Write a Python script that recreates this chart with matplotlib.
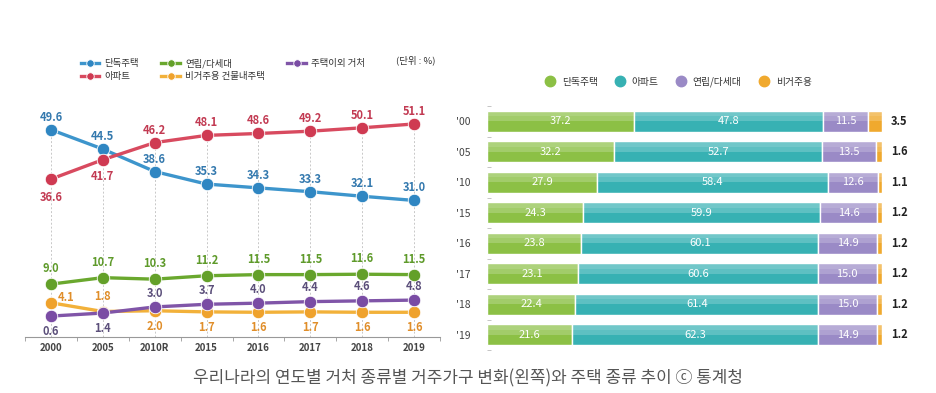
import matplotlib
matplotlib.use("Agg")
import matplotlib.pyplot as plt
import numpy as np
from matplotlib.lines import Line2D

plt.rcParams['font.family'] = ['Noto Sans CJK KR', 'DejaVu Sans']

# left chart data (%)
years = ['2000', '2005', '2010R', '2015', '2016', '2017', '2018', '2019']
detached = [49.6, 44.5, 38.6, 35.3, 34.3, 33.3, 32.1, 31.0]
apartment = [36.6, 41.7, 46.2, 48.1, 48.6, 49.2, 50.1, 51.1]
rowhouse = [9.0, 10.7, 10.3, 11.2, 11.5, 11.5, 11.6, 11.5]
non_housing = [0.6, 1.4, 3.0, 3.7, 4.0, 4.4, 4.6, 4.8]
non_res = [4.1, 1.8, 2.0, 1.7, 1.6, 1.7, 1.6, 1.6]

# right chart data (%)
yr_short = ["'00", "'05", "'10", "'15", "'16", "'17", "'18", "'19"]
house_det = [37.2, 32.2, 27.9, 24.3, 23.8, 23.1, 22.4, 21.6]
house_apt = [47.8, 52.7, 58.4, 59.9, 60.1, 60.6, 61.4, 62.3]
house_row = [11.5, 13.5, 12.6, 14.6, 14.9, 15.0, 15.0, 14.9]
house_nonres = [3.5, 1.6, 1.1, 1.2, 1.2, 1.2, 1.2, 1.2]

fig = plt.figure(figsize=(9.36, 3.93), dpi=100)

# ---------- left: line chart ----------
ax = fig.add_axes([25/936, 56/393, 415/936, 237/393])
x = np.arange(len(years))
ymin = -4.9
ax.set_xlim(-0.2, 7.45)
ax.set_ylim(ymin, 57.4)

tops = np.max([detached, apartment, rowhouse, non_housing, non_res], axis=0)
ax.vlines(x, ymin, tops, colors='#c8c8c8', linestyles=(0, (2, 2)), lw=0.7, zorder=0)

# (name, values, line color, marker color, text color, label offsets in points)
series = [
    ('단독주택', detached, '#3d95cc', '#2f86c2', '#3479ae', [9, 9, 9, 9, 9, 9, 9, 9]),
    ('아파트', apartment, '#d84a5f', '#cf3a52', '#c23a52', [-13, -12, 9, 9, 9, 9, 9, 9]),
    ('연립/다세대', rowhouse, '#6aa82e', '#63a029', '#5e9a2a', [11, 11, 11, 11, 11, 11, 11, 11]),
    ('비거주용 건물내주택', non_res, '#f2b13a', '#efa22c', '#e08e2a', [None, 11, -11, -11, -11, -11, -11, -11]),
    ('주택이외 거처', non_housing, '#8055a8', '#7a4ca4', '#5b4f7a', [-11, -11, 10, 10, 10, 10, 10, 10]),
]
handles = {}
for name, vals, lc, mc, tc, offs in series:
    h, = ax.plot(x, vals, color=lc, lw=2.4, marker='o', ms=9,
                 markerfacecolor=mc, markeredgecolor='white', markeredgewidth=0.6,
                 zorder=3, label=name)
    handles[name] = h
    for i, v in enumerate(vals):
        off = (11, 4) if offs[i] is None else (0, offs[i])
        ax.annotate(f'{v:.1f}', (x[i], v), textcoords='offset points', xytext=off,
                    ha='center', va='center', fontsize=8, fontweight='bold', color=tc)

for s in ['top', 'right', 'left']:
    ax.spines[s].set_visible(False)
ax.spines['bottom'].set_color('#999999')
ax.spines['bottom'].set_linewidth(0.8)
ax.set_yticks([])
ax.set_xticks(x)
ax.set_xticklabels(years, fontsize=7, fontweight='bold', color='#444444')
ax.tick_params(axis='x', length=0, pad=4)
ax.set_xticks(np.arange(-0.5, 8, 1), minor=True)
ax.tick_params(axis='x', which='minor', length=3, color='#999999', direction='out')

order = ['단독주택', '아파트', '연립/다세대', '비거주용 건물내주택', '주택이외 거처']
fig.legend([handles[n] for n in order], order, loc='upper left',
           bbox_to_anchor=(72/936, 1 - 50/393), ncol=3, frameon=False,
           fontsize=6.8, handlelength=2.0, markerscale=0.6, columnspacing=2.4,
           handletextpad=0.5, labelspacing=0.45, labelcolor='#333333')
fig.text(436/936, 1 - 60/393, '(단위 : %)', fontsize=6.8, color='#333333', ha='right', va='center')

# ---------- right: stacked bars ----------
bx = fig.add_axes([487/936, 43/393, 433/936, 250/393])
yy = np.arange(len(yr_short))
bar_series = [
    ('단독주택', house_det, '#8cc045', 'white'),
    ('아파트', house_apt, '#37b1b3', 'white'),
    ('연립/다세대', house_row, '#9a8ac6', 'white'),
    ('비거주용', house_nonres, '#f0a92e', None),
]
left = np.zeros(len(yr_short))
bh = 0.68
for name, vals, col, tcol in bar_series:
    vals = np.array(vals)
    bx.barh(yy, vals, left=left, height=bh, color=col, edgecolor='white', lw=1.0, label=name, zorder=2)
    # soft highlight on the upper part of each bar
    bx.barh(yy - bh/4, vals, left=left, height=bh/2, color='white', alpha=0.2, lw=0, zorder=3)
    bx.barh(yy - bh*3/8, vals, left=left, height=bh/4, color='white', alpha=0.12, lw=0, zorder=3)
    if tcol:
        for i, v in enumerate(vals):
            bx.text(left[i] + v/2, yy[i], f'{v:.1f}', ha='center', va='center',
                    fontsize=8, color=tcol, zorder=4)
    else:
        for i, v in enumerate(vals):
            bx.text(left[i] + v + 2.3, yy[i], f'{v:.1f}', ha='left', va='center',
                    fontsize=8, fontweight='bold', color='#222222', zorder=4)
    left = left + vals

bx.set_xlim(0, 109.6)
bx.set_ylim(7.5, -0.7)
for s in bx.spines.values():
    s.set_visible(False)
bx.set_xticks([])
bx.set_yticks(yy)
bx.set_yticklabels(yr_short, fontsize=7.5, color='#444444')
bx.tick_params(axis='y', length=0, pad=12)
bx.set_yticks(np.arange(-0.5, 8, 1), minor=True)
bx.tick_params(axis='y', which='minor', length=3, color='#bbbbbb', direction='in')

bh_handles = [Line2D([], [], ls='none', marker='o', ms=7.5, color=c) for _, _, c, _ in bar_series]
fig.legend(bh_handles, [b[0] for b in bar_series], loc='center', ncol=4,
           bbox_to_anchor=(676/936, 1 - 82/393), frameon=False, fontsize=7,
           handletextpad=0.2, columnspacing=1.3, labelcolor='#333333')

fig.text(0.5, 1 - 378/393, '우리나라의 연도별 거처 종류별 거주가구 변화(왼쪽)와 주택 종류 추이 ⓒ 통계청',
         ha='center', va='center', fontsize=12.2, color='#555555')

fig.savefig('out.png', dpi=100)
